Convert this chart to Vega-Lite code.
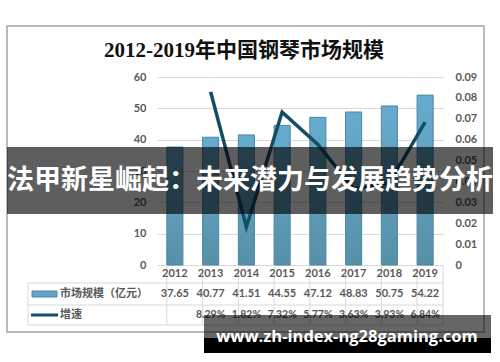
{
  "$schema": "https://vega.github.io/schema/vega-lite/v6.json",
  "autosize": "none",
  "width": 286,
  "height": 188,
  "padding": {"left": 157, "top": 77, "right": 57, "bottom": 97},
  "background": "white",
  "config": {"view": {"stroke": null}, "font": "Lato"},
  "data": {"values": [
    {"year": "2012", "size": 37.65, "growth": null},
    {"year": "2013", "size": 40.77, "growth": 0.0829},
    {"year": "2014", "size": 41.51, "growth": 0.0182},
    {"year": "2015", "size": 44.55, "growth": 0.0732},
    {"year": "2016", "size": 47.12, "growth": 0.0577},
    {"year": "2017", "size": 48.83, "growth": 0.0363},
    {"year": "2018", "size": 50.75, "growth": 0.0393},
    {"year": "2019", "size": 54.22, "growth": 0.0684}
  ]},
  "resolve": {"scale": {"y": "independent"}, "axis": {"y": "independent"}},
  "layer": [
    {
      "data": {"values": [{}]},
      "mark": {"type": "rect", "x": -150, "x2": 327, "y": -51, "y2": 255, "fill": null, "fillOpacity": 0, "stroke": "#a5a5a5", "strokeWidth": 1.5}
    },
    {
      "data": {"values": [{"t": "2012-2019年中国钢琴市场规模"}]},
      "mark": {"type": "text", "x": 87, "y": -26, "align": "center", "baseline": "middle", "font": "Liberation Serif, Noto Sans CJK SC", "fontSize": 21, "fontWeight": "bold", "color": "#111111"},
      "encoding": {"text": {"field": "t"}}
    },
    {
      "mark": {"type": "bar", "stroke": "#4a86a2", "strokeWidth": 1,
        "color": {"gradient": "linear", "x1": 0, "y1": 0, "x2": 0, "y2": 1,
          "stops": [{"offset": 0, "color": "#67acd0"}, {"offset": 1, "color": "#5790a8"}]}},
      "encoding": {
        "x": {"field": "year", "type": "ordinal", "axis": null, "scale": {"paddingInner": 0.55, "paddingOuter": 0.275}},
        "y": {"field": "size", "type": "quantitative", "scale": {"domain": [0, 60], "nice": false},
          "axis": {"values": [0, 10, 20, 30, 40, 50, 60], "domain": false, "ticks": false, "gridColor": "#d9d9d9", "labelPadding": 11, "labelColor": "#595959", "labelFont": "Lato", "labelFontWeight": "bold", "labelFontSize": 11, "title": null}}
      }
    },
    {
      "mark": {"type": "line", "color": "#134e65", "strokeWidth": 3.5},
      "encoding": {
        "x": {"field": "year", "type": "ordinal", "axis": null},
        "y": {"field": "growth", "type": "quantitative", "scale": {"domain": [0, 0.09], "nice": false},
          "axis": {"orient": "right", "values": [0, 0.01, 0.02, 0.03, 0.04, 0.05, 0.06, 0.07, 0.08, 0.09], "format": ".2~f", "grid": false, "domain": false, "ticks": false, "labelPadding": 12, "labelColor": "#595959", "labelFont": "Lato", "labelFontWeight": "bold", "labelFontSize": 11, "title": null}}
      }
    },
    {
      "mark": {"type": "rule", "color": "#d9d9d9", "strokeWidth": 1},
      "encoding": {"x": {"field": "year", "type": "ordinal", "bandPosition": 0}, "y": {"value": 188}, "y2": {"value": 248}}
    },
    {
      "data": {"values": [{}]},
      "mark": {"type": "rule", "color": "#d9d9d9", "strokeWidth": 1},
      "encoding": {"x": {"value": 286}, "y": {"value": 188}, "y2": {"value": 248}}
    },
    {
      "data": {"values": [{}]},
      "mark": {"type": "rule", "color": "#d9d9d9", "strokeWidth": 1},
      "encoding": {"x": {"value": -129}, "x2": {"value": 286}, "y": {"value": 206}}
    },
    {
      "data": {"values": [{}]},
      "mark": {"type": "rule", "color": "#d9d9d9", "strokeWidth": 1},
      "encoding": {"x": {"value": -129}, "x2": {"value": 286}, "y": {"value": 228}}
    },
    {
      "data": {"values": [{}]},
      "mark": {"type": "rule", "color": "#d9d9d9", "strokeWidth": 1},
      "encoding": {"x": {"value": -129}, "x2": {"value": 286}, "y": {"value": 248}}
    },
    {
      "data": {"values": [{}]},
      "mark": {"type": "rule", "color": "#d9d9d9", "strokeWidth": 1},
      "encoding": {"x": {"value": -129}, "y": {"value": 206}, "y2": {"value": 248}}
    },
    {
      "mark": {"type": "text", "y": 197, "baseline": "middle", "align": "center", "font": "Lato", "fontWeight": "bold", "fontSize": 11, "color": "#595959"},
      "encoding": {"x": {"field": "year", "type": "ordinal"}, "text": {"field": "year"}}
    },
    {
      "mark": {"type": "text", "y": 217, "baseline": "middle", "align": "center", "font": "Lato", "fontWeight": "bold", "fontSize": 11, "color": "#595959"},
      "encoding": {"x": {"field": "year", "type": "ordinal"}, "text": {"field": "size", "format": ".2f"}}
    },
    {
      "transform": [{"filter": "datum.growth != null"}],
      "mark": {"type": "text", "y": 238, "baseline": "middle", "align": "center", "font": "Lato", "fontWeight": "bold", "fontSize": 10.5, "color": "#595959"},
      "encoding": {"x": {"field": "year", "type": "ordinal"}, "text": {"field": "growth", "format": ".2%"}}
    },
    {
      "data": {"values": [{}]},
      "mark": {"type": "rect", "x": -125, "x2": -100, "y": 214, "y2": 220, "fill": "#62a5c8", "stroke": "#4a86a2", "strokeWidth": 1}
    },
    {
      "data": {"values": [{}]},
      "mark": {"type": "rule", "color": "#134e65", "strokeWidth": 3},
      "encoding": {"x": {"value": -126}, "x2": {"value": -99}, "y": {"value": 238}}
    },
    {
      "data": {"values": [{"t": "市场规模（亿元）"}]},
      "mark": {"type": "text", "x": -97, "y": 217, "align": "left", "baseline": "middle", "font": "Noto Sans CJK SC", "fontWeight": "bold", "fontSize": 11, "color": "#595959"},
      "encoding": {"text": {"field": "t"}}
    },
    {
      "data": {"values": [{"t": "增速"}]},
      "mark": {"type": "text", "x": -97, "y": 238, "align": "left", "baseline": "middle", "font": "Noto Sans CJK SC", "fontWeight": "bold", "fontSize": 11, "color": "#595959"},
      "encoding": {"text": {"field": "t"}}
    },
    {
      "data": {"values": [{}]},
      "mark": {"type": "rect", "x": -150, "x2": 336, "y": 70, "y2": 137, "fill": "#000000", "fillOpacity": 0.63}
    },
    {
      "data": {"values": [{"t": "法甲新星崛起：未来潜力与发展趋势分析"}]},
      "mark": {"type": "text", "x": 93, "y": 104, "align": "center", "baseline": "middle", "font": "Noto Sans CJK SC", "fontWeight": "bold", "fontSize": 27, "color": "white"},
      "encoding": {"text": {"field": "t"}}
    },
    {
      "data": {"values": [{}]},
      "mark": {"type": "rect", "x": 47, "x2": 334, "y": 238, "y2": 261, "fill": "#000000", "fillOpacity": 0.6}
    },
    {
      "data": {"values": [{}]},
      "mark": {"type": "rect", "x": 47, "x2": 334, "y": 261, "y2": 276, "fill": "#000000"}
    },
    {
      "data": {"values": [{"t": "www.zh-index-ng28gaming.com"}]},
      "mark": {"type": "text", "x": 190, "y": 260, "align": "center", "baseline": "middle", "font": "Open Sans", "fontWeight": "bold", "fontSize": 16.5, "color": "white"},
      "encoding": {"text": {"field": "t"}}
    }
  ]
}
